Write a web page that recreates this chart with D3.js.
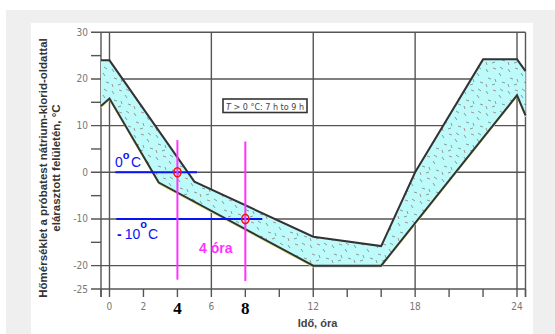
<!DOCTYPE html>
<html><head><meta charset="utf-8">
<script src="https://cdn.jsdelivr.net/npm/d3@7"></script>
<style>html,body{margin:0;padding:0;background:#fff;}svg{display:block;}</style>
</head><body>
<svg id="c" width="555" height="334"></svg>
<script>
// ---- data ----
const upperX = [-0.5, 0, 5, 12, 16, 18, 22, 24, 24.5];
const upperY = [24, 24, -2, -13.8, -15.8, 0, 24.2, 24.2, 21.7];
const lowerX = [-0.5, 0, 2.9, 12, 16, 24, 24.5];
const lowerY = [14.2, 15.8, -2.2, -20, -20, 16.5, 12.2];
const yTickLabels = [30, 20, 10, 0, -10, -20, -25];
const yMinorTicks = [25, 15, 5, -5, -15];
const xGrid = [0, 6, 12, 18, 24];
const xSmallLabels = [0, 2, 6, 12, 18, 24];
const xBigLabels = [4, 8];
const xMinorTicks = [-0.5, 2, 4, 8, 10, 14, 16, 20, 22, 24.5];
const hLines = [{v: 0, x0: 0.35, x1: 5.15}, {v: -10, x0: 0.4, x1: 9.0}];
const vLines = [{h: 4, y0: 6.9, y1: -23}, {h: 8, y0: 6.6, y1: -23.3}];
const markers = [{h: 4, v: 0}, {h: 8, v: -10}];
const yTitle = ["Hőmérséklet a próbatest nátrium-klorid-oldattal", "elárasztott felületén, °C"];
const xTitle = "Idő, óra";
const boxTextRest = " > 0 °C: 7 h to 9 h";

const svg = d3.select("#c");
// backgrounds
svg.append("rect").attr("x", 6).attr("y", 10).attr("width", 549).attr("height", 324).attr("fill", "#efefef");
svg.append("rect").attr("x", 31).attr("y", 23).attr("width", 502).attr("height", 311).attr("fill", "#fff");

const x = d3.scaleLinear().domain([-0.5, 24.5]).range([101, 525.5]);
const y = d3.scaleLinear().domain([-25, 30]).range([289, 32.3]);

// pattern for band texture
const defs = svg.append("defs");
const pat = defs.append("pattern").attr("id", "dash").attr("patternUnits", "userSpaceOnUse")
  .attr("width", 22).attr("height", 22);
pat.append("rect").attr("width", 22).attr("height", 22).attr("fill", "#bdfafa");
const dashes = [[2,3,4,6,"#8a9a9a"],[9,2,12,3,"#b09090"],[15,7,17,10,"#8a9a9a"],[4,12,7,13,"#8a9a9a"],
  [11,13,12,16,"#b09090"],[18,16,21,17,"#8a9a9a"],[2,18,3,21,"#b09090"],[8,19,11,18,"#8a9a9a"],[16,1,19,3,"#8a9a9a"]];
dashes.forEach(d => pat.append("line").attr("x1", d[0]).attr("y1", d[1]).attr("x2", d[2]).attr("y2", d[3])
  .attr("stroke", d[4]).attr("stroke-width", 1));

// grid
const g = svg.append("g").attr("stroke", "#555").attr("stroke-width", 1.4).attr("fill", "none");
yTickLabels.forEach(v => g.append("line").attr("x1", 91).attr("x2", x(24.5)).attr("y1", y(v)).attr("y2", y(v)));
yMinorTicks.forEach(v => g.append("line").attr("x1", 91).attr("x2", x(-0.5)).attr("y1", y(v)).attr("y2", y(v)));
xGrid.concat([-0.5, 24.5]).forEach(h => g.append("line").attr("x1", x(h)).attr("x2", x(h)).attr("y1", y(30)).attr("y2", 297));
xMinorTicks.forEach(h => g.append("line").attr("x1", x(h)).attr("x2", x(h)).attr("y1", y(-25)).attr("y2", 297));

// band
const up = upperX.map((h, i) => [x(h), y(upperY[i])]);
const lo = lowerX.map((h, i) => [x(h), y(lowerY[i])]);
const poly = up.concat(lo.slice().reverse());
svg.append("path").attr("d", "M" + poly.join("L") + "Z").attr("fill", "url(#dash)");
const line = d3.line();
svg.append("path").attr("d", line(lo.map(p => [p[0], p[1] + 1.6]))).attr("fill", "none").attr("stroke", "#e4f08a").attr("stroke-width", 1);
[up, lo].forEach(pts => svg.append("path").attr("d", line(pts)).attr("fill", "none")
  .attr("stroke", "#333").attr("stroke-width", 2).attr("stroke-linejoin", "miter"));

// tick labels
const tl = svg.append("g").attr("font-family", "'DejaVu Sans Condensed','DejaVu Sans',sans-serif")
  .attr("font-size", 10).attr("fill", "#777");
yTickLabels.forEach(v => tl.append("text").attr("x", 88).attr("y", y(v) + 3.5).attr("text-anchor", "end").text(v));
xSmallLabels.forEach(h => tl.append("text").attr("x", x(h)).attr("y", 310).attr("text-anchor", "middle").text(h));
xBigLabels.forEach(h => svg.append("text").attr("x", x(h)).attr("y", 313.5).attr("text-anchor", "middle")
  .attr("font-family", "'Liberation Serif','DejaVu Serif',serif").attr("font-weight", "bold").attr("font-size", 17)
  .attr("fill", "#000").text(h));

// axis titles
svg.append("text").attr("x", 317.5).attr("y", 327).attr("text-anchor", "middle")
  .attr("font-family", "'Liberation Sans',Arial,sans-serif").attr("font-weight", "bold").attr("font-size", 11)
  .attr("fill", "#444").text(xTitle);
yTitle.forEach((t, i) => svg.append("text").attr("transform", `translate(${47 + i * 13},168) rotate(-90)`)
  .attr("text-anchor", "middle").attr("font-family", "'Liberation Sans',Arial,sans-serif")
  .attr("font-weight", "bold").attr("font-size", 11.5).attr("fill", "#333").text(t));

// info box
const bx = svg.append("g");
bx.append("rect").attr("x", 223).attr("y", 99).attr("width", 84).attr("height", 13.5)
  .attr("fill", "#fff").attr("stroke", "#333").attr("stroke-width", 1.6);
const bt = bx.append("text").attr("x", 226).attr("y", 109.5)
  .attr("font-family", "'DejaVu Sans Condensed','DejaVu Sans',sans-serif").attr("font-size", 9.5)
  .attr("textLength", 78).attr("lengthAdjust", "spacingAndGlyphs").attr("fill", "#444");
bt.append("tspan").attr("font-style", "italic").text("T");
bt.append("tspan").text(boxTextRest);

// annotations
hLines.forEach(d => svg.append("line").attr("x1", x(d.x0)).attr("x2", x(d.x1)).attr("y1", y(d.v)).attr("y2", y(d.v))
  .attr("stroke", "#0a14f0").attr("stroke-width", 2));
vLines.forEach(d => svg.append("line").attr("x1", x(d.h)).attr("x2", x(d.h)).attr("y1", y(d.y0)).attr("y2", y(d.y1))
  .attr("stroke", "#ff33ff").attr("stroke-width", 2));
markers.forEach(d => svg.append("ellipse").attr("cx", x(d.h)).attr("cy", y(d.v)).attr("rx", 3.6).attr("ry", 4.6)
  .attr("fill", "none").attr("stroke", "#ff1010").attr("stroke-width", 1.6));

const lab = svg.append("g").attr("font-family", "'Liberation Sans',Arial,sans-serif").attr("fill", "#0a14f0");
const t0 = lab.append("text").attr("x", 115).attr("y", 166.7).attr("font-size", 14);
t0.append("tspan").text("0");
t0.append("tspan").attr("dy", -8).attr("font-size", 11).attr("font-weight", "bold").text("o");
t0.append("tspan").attr("dy", 8).attr("dx", 1.5).text("C");
const t1 = lab.append("text").attr("x", 117).attr("y", 239).attr("font-size", 14);
t1.append("tspan").attr("font-weight", "bold").text("-");
t1.append("tspan").attr("dx", 3).text("10");
t1.append("tspan").attr("dy", -11).attr("font-size", 11).attr("font-weight", "bold").text("o");
t1.append("tspan").attr("dy", 11).attr("dx", 1).text("C");
svg.append("text").attr("x", 199).attr("y", 252.7).attr("font-family", "'Liberation Sans',Arial,sans-serif")
  .attr("font-size", 14).attr("font-weight", "bold").attr("fill", "#ff33ff").text("4 óra");
</script>
</body></html>
